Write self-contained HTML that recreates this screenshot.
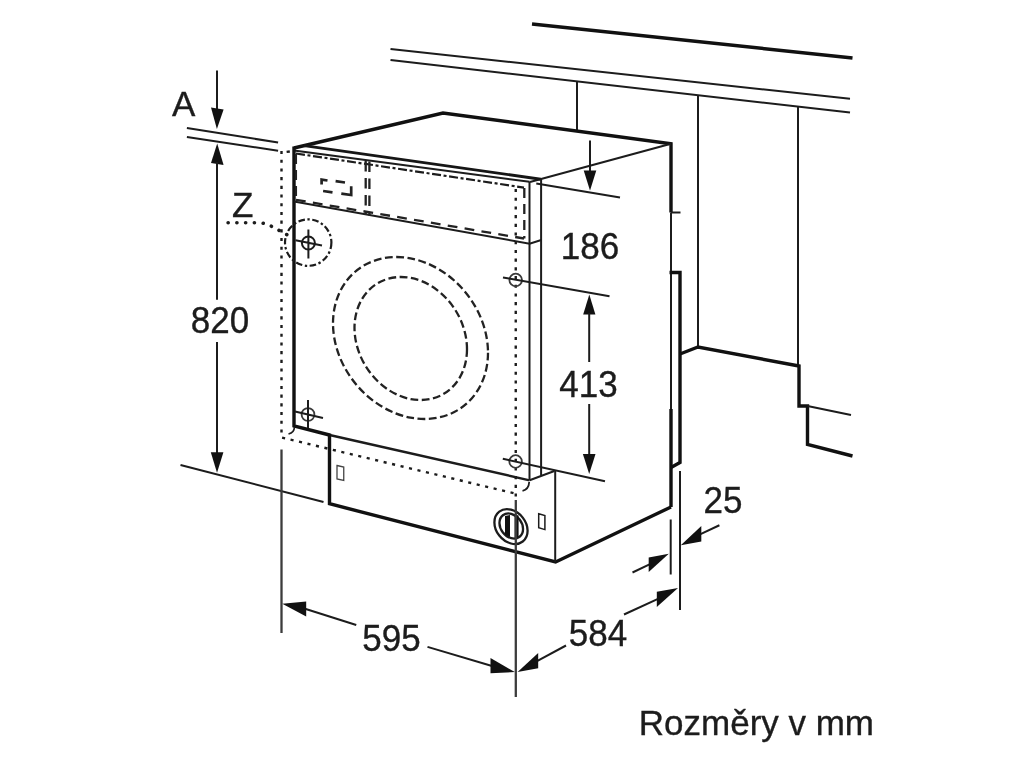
<!DOCTYPE html>
<html lang="cs">
<head>
<meta charset="utf-8">
<title>Rozměry v mm</title>
<style>
html,body{margin:0;padding:0;background:#fff;}
body{width:1024px;height:768px;overflow:hidden;}
svg{display:block;filter:blur(0.55px);}
svg text{font-family:"Liberation Sans",sans-serif;font-size:35px;fill:#1c1c1c;stroke:#1c1c1c;stroke-width:0.35px;}
.n{stroke:#1c1c1c;stroke-width:2;fill:none;stroke-linecap:butt;stroke-linejoin:miter;}
.k{stroke:#111;stroke-width:3.4;fill:none;stroke-linecap:butt;stroke-linejoin:miter;}
.m{stroke:#161616;stroke-width:2.9;fill:none;}
.d{stroke:#222;stroke-width:2.3;fill:none;stroke-dasharray:7.8 3.5;}
.dd{stroke:#1c1c1c;stroke-width:2.2;fill:none;stroke-dasharray:9 3.5 2.5 3.5;}
.dot{stroke:#1c1c1c;stroke-width:2.4;fill:none;stroke-dasharray:3.1 5.6;}
.bdot{stroke:#1c1c1c;stroke-width:3.6;fill:none;stroke-dasharray:0.1 8.65;stroke-linecap:round;}
.a{fill:#111;stroke:none;}
</style>
</head>
<body>
<svg width="1024" height="768" viewBox="0 0 1024 768">
<rect width="1024" height="768" fill="#fff"/>

<!-- cabinets / background -->
<g id="bg">
<path class="k" d="M532 24 L852.5 58"/>
<path class="n" d="M390.5 49 L850 98.75"/>
<path class="n" d="M390.5 60 L850 112.5"/>
<path class="n" d="M577 81.5 V131"/>
<path class="n" d="M698 95 V347"/>
<path class="n" d="M798 106.5 V366"/>
<path class="k" d="M680 354 L698 347 L799 366 V406 H807.5 V444.5 L852.5 456"/>
<path class="n" d="M807.5 406 L851 415"/>
</g>

<!-- machine body -->
<g id="body">
<path class="k" d="M294 148 L443 113 L671 143.75 V212.5"/>
<path class="n" d="M671 143.75 L530 182"/>
<path class="m" d="M304 145.6 L540.8 179.2"/>
<path class="n" d="M294 150.5 L529.5 181.8"/>
<path class="k" d="M294 146.5 V426 L329.5 435"/>
<path class="n" d="M329.5 435 L529.6 480.3" style="stroke-width:2.4"/>
<path class="n" d="M529.6 480.3 L554.4 471"/>
<path class="n" d="M529.5 181.5 V480.3"/>
<path class="n" d="M541.1 178.6 V475.5"/>
<path class="n" d="M294 201.5 L529.6 243.7 L541.25 240"/>
<!-- right/back edge -->
<path class="n" d="M671 212.5 V409"/>
<path class="n" d="M671 212.5 H680.5"/>
<path class="k" d="M671 409 V507"/>
<path class="k" d="M669.5 272.5 H680 V462.5 L671 467.5"/>
<!-- base -->
<path class="k" d="M329.5 433.5 V503.75 L555.6 562 L671 507"/>
<path class="n" d="M555.2 471 V562"/>
</g>

<!-- hidden / dashed details -->
<g id="hidden">
<path class="dd" d="M296 153.5 L524 187.6" style="stroke-dasharray:9 2.6 3 2.6"/>
<path class="d" d="M524.3 188 V238.5" style="stroke-dasharray:10 6"/>
<path class="d" d="M296 199.8 L524 238.5" style="stroke-dasharray:9.8 7.3"/>
<path class="d" d="M295.9 154 V198" style="stroke-dasharray:10 6"/>
<path class="d" d="M365.7 160 V215" style="stroke-dasharray:10.5 6.5;stroke-dashoffset:-1"/>
<path class="d" d="M369.4 160.5 V215.5" style="stroke-dasharray:10.5 6.5;stroke-dashoffset:-1"/>
<path class="d" d="M321.6 184.5 V179.6 L327.5 180.5 M335.6 181.2 L345 182.5 M351.2 186.2 V195 L341.3 193.7 M323.1 191 L332.5 192.3" style="stroke-width:2.7;stroke-dasharray:none"/>
<!-- dotted outline -->
<path class="dot" d="M281.5 151 V437.5 L517 494"/>
<path class="dot" d="M286.6 151.9 L289.8 151.5" style="stroke-dasharray:none"/>
<path class="n" d="M522.5 490.8 Q528.8 489.5 529.2 482" style="stroke-width:1.8"/>
<path class="n" d="M288.5 434 Q294.4 432.5 294.4 427" style="stroke-width:1.6"/>
<path class="dot" d="M515.75 189 V500"/>
<!-- door -->
<ellipse class="d" cx="0" cy="0" rx="1" ry="1" transform="matrix(77.5 14.7 0 79.65 410.5 338)" vector-effect="non-scaling-stroke"/>
<ellipse class="d" cx="0" cy="0" rx="1" ry="1" transform="matrix(56.25 10.7 0 60.56 410.75 338.5)" vector-effect="non-scaling-stroke"/>
<!-- Z circle -->
<circle class="dd" cx="308.2" cy="242.6" r="23.2" style="stroke-dasharray:6.5 2.6 2.4 2.6"/>
<path class="bdot" d="M228.1 222.8 H258 Q266 222.9 272 226.6 L288 235.2"/>
</g>

<!-- crosshairs -->
<g id="cross">
<circle class="n" cx="308.4" cy="243" r="6.5"/>
<path class="n" d="M308.4 229.5 V258.5 M295.5 240.3 L322 245.4"/>
<circle class="n" cx="515.7" cy="280" r="6.3" style="stroke:#3a3a3a;stroke-width:1.8"/>
<circle class="n" cx="308" cy="414.5" r="6.4" style="stroke:#3a3a3a;stroke-width:1.8"/>
<path class="n" d="M308 400 V428 M295 411.5 L323 418"/>
<circle class="n" cx="515.6" cy="461.5" r="6.3" style="stroke:#3a3a3a;stroke-width:1.8"/>
</g>

<!-- knob and small parts -->
<g id="parts">
<ellipse class="n" cx="0" cy="0" rx="1" ry="1" transform="matrix(16.6 4.2 0 16.9 511 526.6)" vector-effect="non-scaling-stroke" style="stroke-width:2.3"/>
<ellipse class="n" cx="0" cy="0" rx="1" ry="1" transform="matrix(11.8 3 0 12.2 511.25 526)" vector-effect="non-scaling-stroke" style="stroke-width:2.3"/>
<path d="M505 516 L510 515 V537 L505 534.8 Z" class="a"/>
<path d="M514.6 514.5 L518.6 515.6 V537 L514.6 538.3 Z" class="a"/>
<path class="n" d="M538.7 513.8 L544.9 515.6 V529.6 L538.7 527.8 Z" style="stroke-width:1.5"/>
<path class="n" d="M337 465.5 L343.75 467 V480.5 L337 479 Z" style="stroke-width:1.3;stroke:#444"/>
</g>

<!-- dimensions -->
<g id="dims">
<!-- A / 820 -->
<path class="n" d="M217 70.5 V110"/>
<path class="a" d="M216.9 129 L211 107.4 L223.6 109.4 Z"/>
<path class="n" d="M186.9 128.1 L278.1 142.5"/>
<path class="n" d="M186.9 136.9 L278.1 150.8"/>
<path class="a" d="M217.2 143.6 L211 163.1 L223.6 165 Z"/>
<path class="n" d="M217 162 V299.7 M217 341.9 V454"/>
<path class="a" d="M217 472.8 L210.8 452.2 H223.4 Z"/>
<path class="n" d="M180.5 465 L323.5 502"/>
<!-- 186 -->
<path class="n" d="M590 140.5 V173"/>
<path class="a" d="M590 190.5 L583.7 170.5 H596.3 Z"/>
<path class="n" d="M536.3 183.6 L620 197.5"/>
<!-- 413 -->
<path class="n" d="M503 277.5 L609.5 296.25"/>
<path class="a" d="M589.3 294.4 L583.2 314.6 H595.4 Z"/>
<path class="n" d="M589.2 313 V361.9 M589.2 404 V456"/>
<path class="a" d="M589.2 474 L582.9 454 H595.5 Z"/>
<path class="n" d="M502.8 458.75 L605 481.25"/>
<!-- 595 -->
<path class="n" d="M281.5 449.5 V633" style="stroke:#3c3c3c;stroke-width:2.3"/>
<path class="n" d="M515.8 500 V697" style="stroke:#3c3c3c;stroke-width:2.3"/>
<path class="n" d="M305 608.8 L356.25 625"/>
<path class="a" d="M282.3 603.75 L306.2 601.6 V616.4 Z"/>
<path class="n" d="M427.5 646.9 L492 666"/>
<path class="a" d="M514.8 672.1 L490.5 657.9 V673.3 Z"/>
<!-- 584 -->
<path class="n" d="M537 661.2 L566 645.5"/>
<path class="a" d="M517.6 672.1 L538.2 652.9 V668.3 Z"/>
<path class="n" d="M624 614.5 L658 598.9"/>
<path class="a" d="M678 587.9 L656.8 591.7 V607 Z"/>
<!-- 25 -->
<path class="n" d="M680 471 V610"/>
<path class="n" d="M670.7 519.5 V574.5"/>
<path class="n" d="M700 534.3 L719.4 525.25"/>
<path class="a" d="M680.8 545.2 L701.3 526 V541.4 Z"/>
<path class="n" d="M632.5 572.5 L650 564.2"/>
<path class="a" d="M668.8 553.8 L648.7 557.4 V572 Z"/>
</g>

<!-- labels -->
<g id="labels">
<text transform="translate(172 116.2) scale(1 1.02)">A</text>
<text transform="translate(232 216.7) scale(1 1.02)">Z</text>
<text transform="translate(220 333) scale(1 1.06)" text-anchor="middle">820</text>
<text transform="translate(590 259) scale(1 1.06)" text-anchor="middle">186</text>
<text transform="translate(588.5 396.5) scale(1 1.06)" text-anchor="middle">413</text>
<text transform="translate(723 513.3) scale(1 1.06)" text-anchor="middle">25</text>
<text transform="translate(391.5 650.5) scale(1 1.06)" text-anchor="middle">595</text>
<text transform="translate(598 645.5) scale(1 1.06)" text-anchor="middle">584</text>
<text transform="translate(638.8 735) scale(1 1.02)">Rozměry v mm</text>
</g>
</svg>
</body>
</html>
